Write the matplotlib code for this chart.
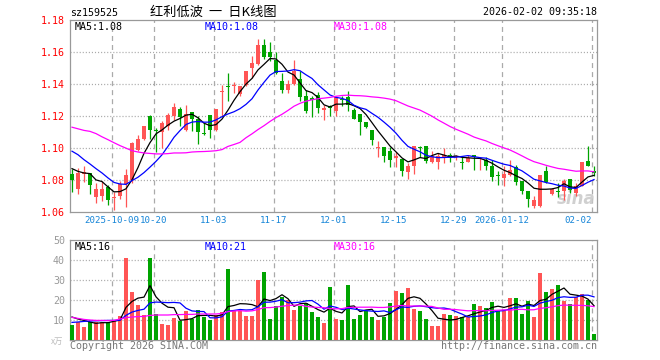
import matplotlib
matplotlib.use('Agg')
import matplotlib.pyplot as plt
import numpy as np
import pandas as pd

plt.rcParams['font.family'] = ['DejaVu Sans Mono', 'Noto Sans CJK SC']
plt.rcParams['lines.scale_dashes'] = False

# ---------------- data ----------------
holidays = ['2025-10-01', '2025-10-02', '2025-10-03', '2025-10-06', '2025-10-07',
            '2025-10-08', '2026-01-01', '2026-01-02']
dates = [d.strftime('%Y-%m-%d') for d in pd.bdate_range('2025-09-22', '2026-02-02')
         if d.strftime('%Y-%m-%d') not in holidays]

opens = [1.0835, 1.0746, 1.0838, 1.0846, 1.0694, 1.0698, 1.0756, 1.0685, 1.0702, 1.0773,
         1.0802, 1.0990, 1.1058, 1.1198, 1.1115, 1.1100, 1.1135, 1.1198, 1.1246, 1.1115,
         1.1225, 1.1183, 1.1094, 1.1208, 1.1115, 1.1348, 1.1385, 1.1385, 1.1340, 1.1396,
         1.1500, 1.1527, 1.1646, 1.1600, 1.1552, 1.1417, 1.1365, 1.1402, 1.1433, 1.1327,
         1.1313, 1.1333, 1.1235, 1.1265, 1.1229, 1.1306, 1.1319, 1.1235, 1.1215, 1.1163,
         1.1115, 1.1002, 1.1008, 1.0979, 1.0940, 1.0931, 1.0848, 1.0885, 1.1006, 1.1010,
         1.0910, 1.0910, 1.0942, 1.0958, 1.0942, 1.0913, 1.0913, 1.0958, 1.0933, 1.0927,
         1.0885, 1.0827, 1.0813, 1.0833, 1.0879, 1.0796, 1.0733, 1.0635, 1.0635, 1.0858,
         1.0715, 1.0729, 1.0733, 1.0806, 1.0719, 1.0765, 1.0917, 1.0854]
highs = [1.0870, 1.0875, 1.0885, 1.0846, 1.0781, 1.0792, 1.0771, 1.0723, 1.0792, 1.0869,
         1.1035, 1.1083, 1.1140, 1.1208, 1.1125, 1.1167, 1.1219, 1.1281, 1.1256, 1.1271,
         1.1225, 1.1198, 1.1156, 1.1208, 1.1246, 1.1396, 1.1469, 1.1413, 1.1385, 1.1483,
         1.1573, 1.1683, 1.1683, 1.1663, 1.1598, 1.1469, 1.1427, 1.1552, 1.1479, 1.1365,
         1.1323, 1.1348, 1.1271, 1.1271, 1.1327, 1.1327, 1.1354, 1.1250, 1.1215, 1.1163,
         1.1115, 1.1046, 1.1008, 1.1004, 1.0973, 1.0931, 1.0906, 1.1015, 1.1015, 1.1010,
         1.0979, 1.0969, 1.1000, 1.0969, 1.0958, 1.0944, 1.0958, 1.0958, 1.0944, 1.0944,
         1.0927, 1.0854, 1.0885, 1.0927, 1.0896, 1.0796, 1.0733, 1.0698, 1.0833, 1.0885,
         1.0750, 1.0781, 1.0806, 1.0806, 1.0781, 1.0915, 1.1015, 1.0885]
lows = [1.0727, 1.0715, 1.0785, 1.0713, 1.0656, 1.0667, 1.0642, 1.0610, 1.0680, 1.0629,
        1.0781, 1.0979, 1.1048, 1.1058, 1.0975, 1.1000, 1.1115, 1.1177, 1.1140, 1.1104,
        1.1108, 1.1027, 1.1083, 1.1063, 1.1104, 1.1198, 1.1292, 1.1344, 1.1323, 1.1390,
        1.1438, 1.1521, 1.1558, 1.1542, 1.1463, 1.1344, 1.1344, 1.1396, 1.1292, 1.1219,
        1.1192, 1.1219, 1.1173, 1.1202, 1.1202, 1.1265, 1.1229, 1.1183, 1.1079, 1.1125,
        1.1021, 1.0942, 1.0913, 1.0879, 1.0879, 1.0827, 1.0808, 1.0840, 1.0942, 1.0906,
        1.0906, 1.0871, 1.0906, 1.0913, 1.0927, 1.0871, 1.0910, 1.0860, 1.0865, 1.0865,
        1.0792, 1.0771, 1.0760, 1.0827, 1.0771, 1.0715, 1.0631, 1.0625, 1.0631, 1.0781,
        1.0708, 1.0694, 1.0677, 1.0719, 1.0698, 1.0760, 1.0885, 1.0823]
closes = [1.0798, 1.0844, 1.0848, 1.0767, 1.0746, 1.0746, 1.0677, 1.0694, 1.0775, 1.0833,
          1.1031, 1.1058, 1.1135, 1.1110, 1.1108, 1.1154, 1.1208, 1.1258, 1.1194, 1.1213,
          1.1181, 1.1098, 1.1090, 1.1115, 1.1246, 1.1354, 1.1379, 1.1396, 1.1385, 1.1483,
          1.1531, 1.1646, 1.1569, 1.1567, 1.1469, 1.1365, 1.1402, 1.1479, 1.1319, 1.1229,
          1.1302, 1.1250, 1.1250, 1.1250, 1.1319, 1.1302, 1.1267, 1.1183, 1.1163, 1.1131,
          1.1048, 1.1008, 1.0948, 1.0927, 1.0948, 1.0858, 1.0885, 1.1010, 1.1000, 1.0917,
          1.0952, 1.0952, 1.0958, 1.0942, 1.0948, 1.0908, 1.0938, 1.0944, 1.0938, 1.0885,
          1.0819, 1.0823, 1.0840, 1.0865, 1.0785, 1.0733, 1.0683, 1.0677, 1.0833, 1.0785,
          1.0744, 1.0725, 1.0796, 1.0735, 1.0765, 1.0915, 1.0885, 1.0844]
volumes = [7.5, 9.2, 6.5, 9.2, 9.2, 9.2, 9.2, 10, 12.2, 41,
           24, 17.5, 12.5, 41, 13, 8, 7.5, 11.2, 9.7, 14.5,
           10.5, 15, 11.7, 10, 12.5, 13.8, 35.5, 14.5, 14.5, 12,
           12, 30, 34, 10.5, 17, 21.7, 20, 15, 17, 18.3,
           14, 11.7, 8.7, 26.7, 10.5, 10, 27.5, 10.5, 12.5, 14.5,
           11.7, 10, 11.7, 18.3, 24.7, 23.5, 26, 15.5, 14.5, 10.5,
           7, 7, 13, 12.5, 12, 11.7, 11.3, 18, 17, 16,
           19, 14.5, 15, 21, 21, 13, 19.7, 11.5, 33.5, 24,
           25.5, 27.5, 19.5, 18, 21.7, 23, 20, 3]

# moving-average values before enough in-window history exists
ma5_head = [1.0871, 1.0854, 1.0844, 1.0840]
ma10_head = [1.0980, 1.0958, 1.0927, 1.0900, 1.0871, 1.0844, 1.0813, 1.0785, 1.0775]
ma30_head = [1.1130, 1.1120, 1.1110, 1.1104, 1.1090, 1.1070, 1.1052, 1.1033, 1.1015, 1.0999,
             1.0983, 1.0975, 1.0969, 1.0966, 1.0963, 1.0963, 1.0965, 1.0969, 1.0969, 1.0970,
             1.0975, 1.0977, 1.0978, 1.0980, 1.0983, 1.0990, 1.1010, 1.1022, 1.1035]
vma5_head = [11.5, 10.5, 9.8, 9.0]
vma10_head = [8.8, 9.0, 9.3, 9.5, 9.6, 9.7, 9.8, 9.8, 9.9]
vma30_head = [11.3, 10.8, 10.3, 10.0, 9.8, 9.8, 9.7, 9.8, 10.5, 11.2,
              11.5, 11.7, 11.8, 12.3, 12.5, 12.5, 12.5, 12.7, 12.7, 12.8,
              12.8, 13.0, 13.0, 13.0, 13.0, 13.3, 14.2, 14.5, 14.7]

price_ma_labels = ['MA5:1.08', 'MA10:1.08', 'MA30:1.08']
vol_ma_labels = ['MA5:16', 'MA10:21', 'MA30:16']
tick_dates = ['2025-10-09', '2025-10-20', '2025-11-03', '2025-11-17', '2025-12-01',
              '2025-12-15', '2025-12-29', '2026-01-12', '2026-02-02']
tick_labels = ['2025-10-09', '10-20', '11-03', '11-17', '12-01', '12-15', '12-29',
               '2026-01-12', '02-02']
price_ticks = [1.06, 1.08, 1.10, 1.12, 1.14, 1.16, 1.18]
vol_ticks = [10, 20, 30, 40, 50]


def moving_average(values, n, head):
    s = pd.Series(values, dtype=float).rolling(n).mean().to_numpy()
    s[:len(head)] = head
    return s


ma5 = moving_average(closes, 5, ma5_head)
ma10 = moving_average(closes, 10, ma10_head)
ma30 = moving_average(closes, 30, ma30_head)
vma5 = moving_average(volumes, 5, vma5_head)
vma10 = moving_average(volumes, 10, vma10_head)
vma30 = moving_average(volumes, 30, vma30_head)

# ---------------- style ----------------
RED = '#ff5555'
GREEN = '#00a400'
TICKBLUE = '#1585d8'
GRID = '#aaaaaa'
FRAME = '#999999'
FS = 7.2

W, H = 660, 360
fig = plt.figure(figsize=(W / 100, H / 100), dpi=100)
ax = fig.add_axes([70 / W, 1 - 212 / H, 527 / W, 192 / H])
axv = fig.add_axes([70 / W, 1 - 340 / H, 527 / W, 100 / H])

n = len(closes)
x = np.arange(n)
o = np.array(opens); c = np.array(closes); hi = np.array(highs); lo = np.array(lows)
up = c >= o
colors = np.where(up, RED, GREEN)

body_bottom = np.minimum(o, c)
body_h = np.maximum(np.abs(c - o), 0.0006)
ax.vlines(x, lo, hi, colors=colors, lw=0.9, zorder=3)
ax.bar(x, body_h, bottom=body_bottom, width=0.82, color=colors, linewidth=0, zorder=4)

ax.plot(x, ma5, color='black', lw=0.9, zorder=5)
ax.plot(x, ma10, color='#0000ff', lw=0.9, zorder=5)
ax.plot(x, ma30, color='#ff00ff', lw=0.9, zorder=5)

axv.bar(x, volumes, width=0.82, color=colors, linewidth=0, zorder=3)
axv.plot(x, vma5, color='black', lw=0.9, zorder=5)
axv.plot(x, vma10, color='#0000ff', lw=0.9, zorder=5)
axv.plot(x, vma30, color='#ff00ff', lw=0.9, zorder=5)

tick_pos = [dates.index(d) - 0.33 for d in tick_dates]

for a in (ax, axv):
    a.set_xlim(-0.333, n - 0.5)
    for s in a.spines.values():
        s.set_color(FRAME)
        s.set_linewidth(0.9)
    for p in tick_pos:
        a.axvline(p, color=GRID, lw=0.9, linestyle=(0, (3.6, 2.9)), zorder=1)
    a.tick_params(length=0)

ax.set_ylim(1.06, 1.18)
ax.set_yticks(price_ticks)
ax.set_yticklabels(['%.2f' % v for v in price_ticks], color='#ff0000', fontsize=FS)
for v in price_ticks[1:-1]:
    ax.axhline(v, color=GRID, lw=0.9, linestyle=(0, (0.8, 1.4)), zorder=1)
ax.set_xticks(tick_pos)
ax.set_xticklabels(tick_labels, color=TICKBLUE, fontsize=6.6)
ax.tick_params(axis='y', pad=3.6)
ax.tick_params(axis='x', pad=2.8)
xl = ax.get_xticklabels()
xl[-1].set_ha('right')

axv.set_ylim(0, 50)
axv.set_yticks(vol_ticks)
axv.set_yticklabels([str(v) for v in vol_ticks], color='#999999', fontsize=FS)
axv.tick_params(axis='y', pad=3.6)
axv.set_xticks([])
for v in vol_ticks[:-1]:
    axv.axhline(v, color=GRID, lw=0.9, linestyle=(0, (0.8, 1.4)), zorder=1)

# MA legends
lab_x = [5 / 527, 135 / 527, 264 / 527]
lab_c = ['black', '#0000ff', '#ff00ff']
for lx, t, col in zip(lab_x, price_ma_labels, lab_c):
    ax.text(lx, 1 - 6.5 / 192, t, transform=ax.transAxes, color=col, fontsize=FS,
            ha='left', va='center', zorder=6)
for lx, t, col in zip(lab_x, vol_ma_labels, lab_c):
    axv.text(lx, 1 - 6.5 / 100, t, transform=axv.transAxes, color=col, fontsize=FS,
             ha='left', va='center', zorder=6)

# header / footer texts
fig.text(70 / W, 1 - 13 / H, 'sz159525', fontsize=FS, ha='left', va='center')
fig.text(213 / W, 1 - 12.5 / H, '红利低波  一  日K线图', family=['Noto Sans CJK SC', 'DejaVu Sans'],
         fontsize=9.5, ha='center', va='center')
fig.text(597 / W, 1 - 12 / H, '2026-02-02 09:35:18', fontsize=FS, ha='right', va='center')
fig.text(70 / W, 1 - 346 / H, 'Copyright 2026 SINA.COM', fontsize=FS, color='#777777',
         ha='left', va='center')
fig.text(597 / W, 1 - 346 / H, 'http://finance.sina.com.cn', fontsize=FS, color='#777777',
         ha='right', va='center')
fig.text(57 / W, 1 - 341 / H, 'x万', family=['Noto Sans CJK SC', 'DejaVu Sans'], fontsize=6,
         color='#bbbbbb', ha='center', va='center')
ax.text(0.997, 0.02, 'sina', transform=ax.transAxes, ha='right', va='bottom',
        family='DejaVu Sans', fontsize=12, style='italic', weight='bold',
        color='#c8c8c8', alpha=0.85, zorder=2)

fig.savefig('out.png', dpi=100)
